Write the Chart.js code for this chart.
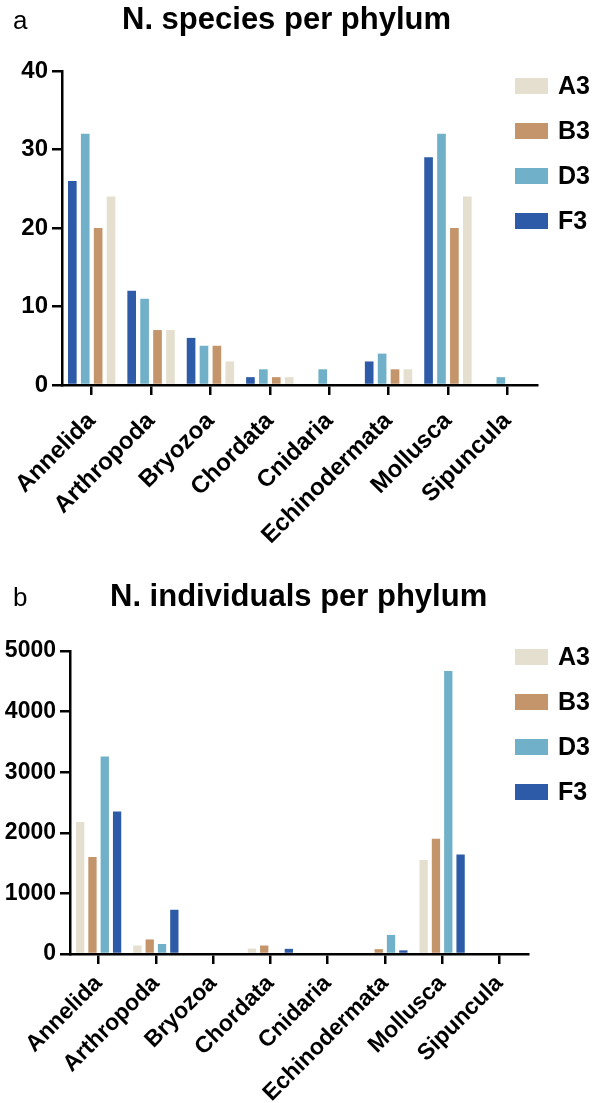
<!DOCTYPE html>
<html>
<head>
<meta charset="utf-8">
<script src="https://cdn.jsdelivr.net/npm/chart.js@4.4.0/dist/chart.umd.min.js"></script>
<style>
  body { margin: 0; background: #fff; }
  canvas { display: block; }
</style>
</head>
<body>
<canvas id="barSpecies" width="599" height="575"></canvas>
<canvas id="barIndividuals" width="599" height="528"></canvas>
<script>
// data
var phyla = ['Annelida', 'Arthropoda', 'Bryozoa', 'Chordata', 'Cnidaria', 'Echinodermata', 'Mollusca', 'Sipuncula'];

var speciesA3 = [24, 7, 3, 1, 0, 2, 24, 0];
var speciesB3 = [20, 7, 5, 1, 0, 2, 20, 0];
var speciesD3 = [32, 11, 5, 2, 2, 4, 32, 1];
var speciesF3 = [26, 12, 6, 1, 0, 3, 29, 0];

var indivA3 = [2180, 140, 0, 90, 0, 0, 1550, 0];
var indivB3 = [1600, 240, 0, 140, 0, 80, 1900, 0];
var indivD3 = [3260, 165, 0, 0, 0, 315, 4670, 0];
var indivF3 = [2350, 730, 0, 85, 0, 60, 1640, 0];

var speciesTicks = [0, 10, 20, 30, 40];
var indivTicks = [0, 1000, 2000, 3000, 4000, 5000];

var colA3 = '#e5dfcf';
var colB3 = '#c4956a';
var colD3 = '#70b0c8';
var colF3 = '#2d5ba7';

var fam = '"Liberation Sans", Arial, sans-serif';
Chart.defaults.font.family = fam;
Chart.defaults.color = '#000';

// panel letter, title and the legend on the right (it sits over the plot like the original)
var panelText = {
  id: 'panelText',
  afterDraw: function (chart, args, opts) {
    var ctx = chart.ctx;
    ctx.save();
    ctx.fillStyle = '#000';
    ctx.textAlign = 'left';
    ctx.textBaseline = 'alphabetic';
    ctx.font = '26px ' + fam;
    ctx.fillText(opts.letter, 13, opts.baseline);
    ctx.font = 'bold 31px ' + fam;
    ctx.fillText(opts.title, opts.titleX, opts.baseline);

    var sets = chart.data.datasets.slice();
    if (opts.reverse) sets.reverse();
    ctx.font = 'bold 25px ' + fam;
    ctx.textBaseline = 'middle';
    sets.forEach(function (ds, i) {
      var y = opts.legendTop + i * 45;
      ctx.fillStyle = ds.backgroundColor;
      ctx.fillRect(515, y - 8, 33, 16);
      ctx.fillStyle = '#000';
      ctx.fillText(ds.label, 558, y + 1);
    });
    ctx.restore();
  }
};

function makeScales(ticks, yWidth, xHeight, fontSize, xPad) {
  return {
    x: {
      grid: { offset: false, drawOnChartArea: false, color: '#000', lineWidth: 2.5, tickLength: 10 },
      border: { color: '#000', width: 2.5 },
      ticks: { autoSkip: false, minRotation: 45, maxRotation: 45, padding: xPad, font: { size: fontSize, weight: 'bold' } },
      afterFit: function (scale) { scale.height = xHeight; }
    },
    y: {
      min: ticks[0],
      max: ticks[ticks.length - 1],
      grid: { drawOnChartArea: false, color: '#000', lineWidth: 2.5, tickLength: 10 },
      border: { color: '#000', width: 2.5 },
      ticks: {
        stepSize: ticks[1] - ticks[0],
        padding: 4,
        font: { size: fontSize, weight: 'bold' },
        callback: function (v) { return String(v); }
      },
      afterFit: function (scale) { scale.width = yWidth; }
    }
  };
}

var getSp = document.getElementById('barSpecies').getContext('2d');
var barSpecies = new Chart(getSp, {
  type: 'bar',
  data: {
    labels: phyla,
    datasets: [
      { label: 'F3', data: speciesF3, backgroundColor: colF3 },
      { label: 'D3', data: speciesD3, backgroundColor: colD3 },
      { label: 'B3', data: speciesB3, backgroundColor: colB3 },
      { label: 'A3', data: speciesA3, backgroundColor: colA3 }
    ]
  },
  options: {
    responsive: false,
    animation: false,
    categoryPercentage: 0.87,
    barPercentage: 0.67,
    layout: { padding: { left: 0, right: 62, top: 71, bottom: 0 } },
    plugins: {
      legend: { display: false },
      tooltip: { enabled: false },
      panelText: { letter: 'a', title: 'N. species per phylum', titleX: 122, baseline: 29, legendTop: 86, reverse: true }
    },
    scales: makeScales(speciesTicks, 62, 190, 24, 12)
  },
  plugins: [panelText]
});

var getInd = document.getElementById('barIndividuals').getContext('2d');
var barIndividuals = new Chart(getInd, {
  type: 'bar',
  data: {
    labels: phyla,
    datasets: [
      { label: 'A3', data: indivA3, backgroundColor: colA3 },
      { label: 'B3', data: indivB3, backgroundColor: colB3 },
      { label: 'D3', data: indivD3, backgroundColor: colD3 },
      { label: 'F3', data: indivF3, backgroundColor: colF3 }
    ]
  },
  options: {
    responsive: false,
    animation: false,
    categoryPercentage: 0.86,
    barPercentage: 0.675,
    layout: { padding: { left: 0, right: 71, top: 76, bottom: 0 } },
    plugins: {
      legend: { display: false },
      tooltip: { enabled: false },
      panelText: { letter: 'b', title: 'N. individuals per phylum', titleX: 110, baseline: 31, legendTop: 82, reverse: false }
    },
    scales: makeScales(indivTicks, 70, 149, 23, 6)
  },
  plugins: [panelText]
});
</script>
</body>
</html>
